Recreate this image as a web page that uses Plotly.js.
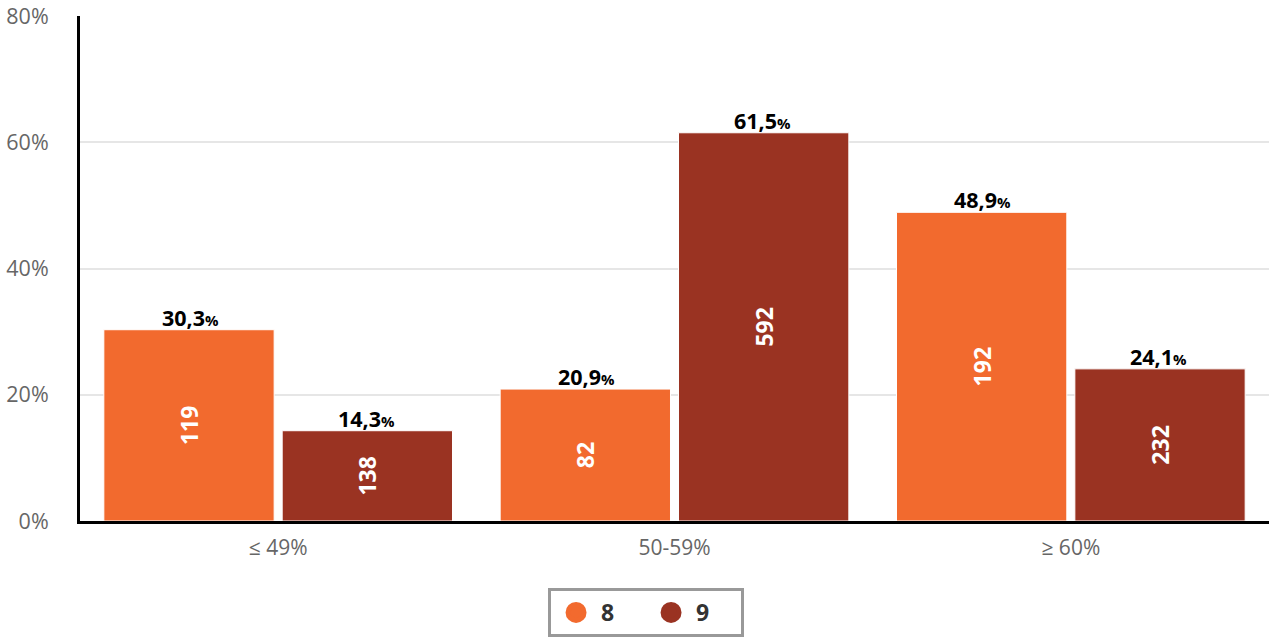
<!DOCTYPE html>
<html>
<head>
<meta charset="utf-8">
<script src="https://cdn.plot.ly/plotly-3.0.1.min.js"></script>
<style>html,body{margin:0;padding:0;background:#fff;}#chart{width:1269px;height:644px;}</style>
</head>
<body>
<div id="chart"></div>
<script>
const categories = ['≤ 49%', '50-59%', '≥ 60%'];
const seriesNames = ['8', '9'];
const pct8 = [30.3, 20.9, 48.9];
const pct9 = [14.3, 61.5, 24.1];
const count8 = [119, 82, 192];
const count9 = [138, 592, 232];
const yTicks = [0, 20, 40, 60, 80];
const colors = ['#F26A2E', '#9A3322'];

const fmt = v => v.toFixed(1).replace('.', ',');

function barTrace(name, pct, cnt, color) {
  return {
    type: 'bar', name: name, x: categories, y: pct,
    text: cnt.map(String), textposition: 'inside', textangle: -90,
    insidetextanchor: 'middle',
    textfont: {family: 'Open Sans', size: 23, color: '#ffffff', weight: 700},
    marker: {color: color, line: {color: '#ffffff', width: 1}},
    showlegend: false, hoverinfo: 'skip', cliponaxis: false
  };
}
function legendTrace(name, color) {
  return {
    type: 'scatter', mode: 'markers', name: name, x: [null], y: [null],
    marker: {color: color, size: 16, symbol: 'circle', line: {color: color, width: 5}},
    showlegend: true
  };
}

const annotations = [];
[[pct8, -88], [pct9, 88]].forEach(([arr, shift]) => {
  arr.forEach((v, i) => {
    annotations.push({
      x: categories[i], y: v, xref: 'x', yref: 'y', xshift: shift, yshift: -4,
      yanchor: 'bottom', showarrow: false,
      text: '<b>' + fmt(v) + '</b><b><span style="font-size:15px">%</span></b>',
      font: {family: 'Open Sans', size: 21.5, color: '#000000'}
    });
  });
});

const data = [
  barTrace(seriesNames[0], pct8, count8, colors[0]),
  barTrace(seriesNames[1], pct9, count9, colors[1]),
  legendTrace(seriesNames[0], colors[0]),
  legendTrace(seriesNames[1], colors[1])
];

const layout = {
  width: 1269, height: 644,
  margin: {l: 80, r: 0, t: 16, b: 123},
  paper_bgcolor: '#ffffff', plot_bgcolor: '#ffffff',
  font: {family: 'Open Sans', color: '#666666'},
  barmode: 'group', bargap: 0.1, bargroupgap: 0.045,
  xaxis: {
    type: 'category', showgrid: false, showline: true, linecolor: '#000000', linewidth: 3,
    ticks: '', tickfont: {size: 21, color: '#666666'}, ticklabelstandoff: 6, zeroline: false
  },
  yaxis: {
    range: [0, 80], tickvals: yTicks, ticktext: yTicks.map(v => v + '%'),
    showgrid: true, gridcolor: '#e6e6e6', gridwidth: 2,
    showline: true, linecolor: '#000000', linewidth: 3, zeroline: false,
    ticks: '', tickfont: {size: 21.5, color: '#666666'}, ticklabelstandoff: 24
  },
  showlegend: true,
  legend: {
    orientation: 'h', xref: 'container', yref: 'container', x: 0.5091, xanchor: 'center',
    y: 0.087, yanchor: 'top', bordercolor: '#999999', borderwidth: 3, bgcolor: '#ffffff',
    font: {family: 'Open Sans', size: 23, color: '#333333', weight: 700},
    entrywidth: 40, entrywidthmode: 'pixels', itemwidth: 40, tracegroupgap: 0
  },
  annotations: annotations
};

Plotly.newPlot('chart', data, layout, {displayModeBar: false, staticPlot: true});
</script>
</body>
</html>
